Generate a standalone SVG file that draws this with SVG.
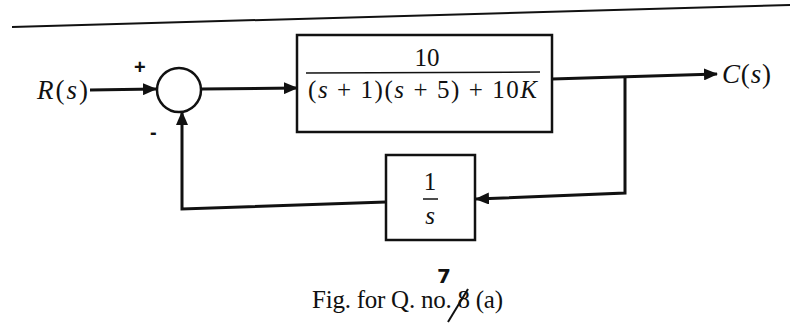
<svg xmlns="http://www.w3.org/2000/svg" width="790" height="332" viewBox="0 0 790 332">
<style>
.ln{fill:none;stroke:#111;stroke-width:3}
.bx{fill:none;stroke:#111;stroke-width:2.5}
.m{font-family:"Liberation Serif",serif;font-size:25px;fill:#111}
.io{font-family:"Liberation Serif",serif;font-size:27px;fill:#111}
.i{font-style:italic}
.cap{font-family:"Liberation Serif",serif;font-size:25px;fill:#111}
</style>
<defs>
<marker id="ah" markerWidth="14" markerHeight="12" refX="13" refY="6" orient="auto" markerUnits="userSpaceOnUse">
<path d="M0,0 L14,6 L0,12 z" fill="#111"/>
</marker>
</defs>
<rect width="790" height="332" fill="#fff"/>
<line x1="12" y1="27" x2="790" y2="5" stroke="#111" stroke-width="2"/>
<g id="connectors">
<line class="ln" x1="90" y1="90" x2="156" y2="89" marker-end="url(#ah)"/>
<line class="ln" x1="201" y1="89" x2="297" y2="88" marker-end="url(#ah)"/>
<line class="ln" x1="552" y1="79" x2="717" y2="74" marker-end="url(#ah)"/>
<polyline class="ln" points="625,78 625,193 476,199" marker-end="url(#ah)"/>
<polyline class="ln" points="386,202 182,209 182,112" marker-end="url(#ah)"/>
</g>
<g id="input">
<text class="io" x="37" y="99" textLength="51"><tspan class="i">R</tspan>(<tspan class="i">s</tspan>)</text>
</g>
<g id="sum">
<circle cx="179" cy="90" r="22" fill="none" stroke="#111" stroke-width="2.5"/>
<text x="134" y="74" font-family="Liberation Sans,sans-serif" font-size="20" font-weight="bold" fill="#111">+</text>
<text x="150" y="139" font-family="Liberation Sans,sans-serif" font-size="20" font-weight="bold" fill="#111">-</text>
</g>
<g id="forward">
<rect class="bx" x="297" y="35" width="255" height="97"/>
<text class="m" x="427" y="66" text-anchor="middle">10</text>
<line x1="306" y1="73" x2="540" y2="72" stroke="#111" stroke-width="1.5"/>
<text class="m" x="308" y="98" textLength="229">(<tspan class="i">s</tspan> + 1)(<tspan class="i">s</tspan> + 5) + 10<tspan class="i">K</tspan></text>
</g>
<g id="output">
<text class="io" x="722" y="83" textLength="49"><tspan class="i">C</tspan>(<tspan class="i">s</tspan>)</text>
</g>
<g id="feedback">
<rect class="bx" x="386" y="155" width="89" height="85"/>
<text class="m" x="430" y="190" text-anchor="middle">1</text>
<line x1="423" y1="199" x2="438" y2="199" stroke="#111" stroke-width="1.5"/>
<text class="m i" x="430" y="224" text-anchor="middle">s</text>
</g>
<g id="caption">
<text class="cap" x="312" y="308" textLength="191">Fig. for Q. no. 8 (a)</text>
<line x1="448" y1="322" x2="468" y2="289" stroke="#111" stroke-width="2"/>
<text x="437" y="283" font-family="DejaVu Sans,sans-serif" font-size="20" font-weight="bold" fill="#111">7</text>
</g>
</svg>
